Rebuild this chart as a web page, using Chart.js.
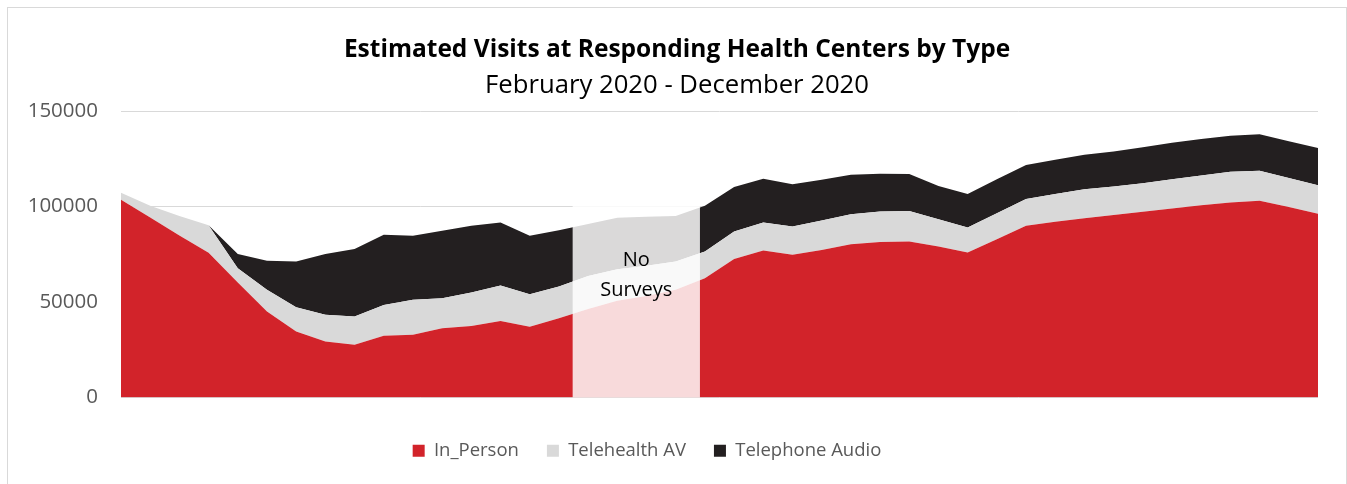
<!DOCTYPE html>
<html>
<head>
<meta charset="utf-8">
<script src="https://cdn.jsdelivr.net/npm/chart.js@4/dist/chart.umd.min.js"></script>
<style>
  html, body { margin: 0; padding: 0; background: #ffffff; }
  #frame { position: absolute; left: 7px; top: 7px; width: 1338px; height: 490px; border: 1px solid #d9d9d9; }
  #c { position: absolute; left: 8px; top: 8px; }
</style>
</head>
<body>
<div id="frame"></div>
<canvas id="c" width="1338" height="476"></canvas>
<script>
// ---- data ----
const categories = ["W1","W2","W3","W4","W5","W6","W7","W8","W9","W10","W11","W12","W13","W14",
  "W15","W16","W17","W18","W19","W20","W21","W22","W23","W24","W25","W26","W27","W28",
  "W29","W30","W31","W32","W33","W34","W35","W36","W37","W38","W39","W40","W41","W42"];

const inPerson = [103500, 94200, 84800, 75800, 60200, 45000, 34600, 29300, 27600, 32300, 32800, 36300, 37500, 40000,
  37000, 41500, 46300, 50600, 53200, 56400, 62500, 72500, 77000, 74700, 77300, 80300, 81400, 81700,
  79100, 75900, 82900, 89900, 92000, 93900, 95500, 97200, 99000, 100700, 102100, 103000, 99700, 96200];

const telehealthAV = [3700, 6200, 10300, 14400, 7500, 11400, 12700, 14000, 14800, 16200, 18400, 15700, 17500, 18600,
  17100, 16600, 17300, 16600, 15800, 14800, 13900, 14400, 14600, 14800, 15400, 15700, 16000, 15900,
  14300, 13100, 13600, 14000, 14500, 15200, 15000, 15000, 15300, 15500, 16100, 15700, 15300, 15000];

const telephoneAudio = [0, 0, 0, 0, 7400, 15200, 23900, 31800, 35300, 36700, 33500, 35300, 34900, 33000,
  30600, 29500, 27300, 26900, 25600, 23900, 24000, 23300, 22900, 22200, 21300, 20600, 19700, 19400,
  17400, 17600, 17800, 17900, 18000, 18000, 18300, 18900, 19100, 19200, 18800, 19200, 19200, 19400];

const yTicks = [0, 50000, 100000, 150000];
const seriesNames = ["In_Person", "Telehealth AV", "Telephone Audio"];

// "No Surveys" band, in category-index units and value units
const bandStart = 15.47;
const bandEnd = 19.83;
const bandTop = 140000;
const bandLabelLines = ["No", "Surveys"];
const bandLabelValues = [72000, 56000];

// ---- styles ----
const FONT = "'Open Sans', 'Noto Sans', sans-serif";
const RED = "#d2232a", GREY = "#d9d9d9", BLACK = "#231f20", TXT = "#595959";
const LEGEND_DX = -16;
const TITLE_DX = 14;

const bandPlugin = {
  id: "noSurveys",
  afterDatasetsDraw(chart) {
    const x = chart.scales.x, y = chart.scales.y, ctx = chart.ctx;
    const x0 = x.getPixelForValue(bandStart), x1 = x.getPixelForValue(bandEnd);
    const y0 = y.getPixelForValue(bandTop), y1 = y.getPixelForValue(0);
    ctx.save();
    ctx.fillStyle = "rgba(255,255,255,0.83)";
    ctx.fillRect(x0, y0, x1 - x0, y1 - y0);
    ctx.fillStyle = "#000000";
    ctx.font = "20px " + FONT;
    ctx.textAlign = "center";
    ctx.textBaseline = "middle";
    const cx = (x0 + x1) / 2;
    bandLabelLines.forEach((t, i) => ctx.fillText(t, cx, y.getPixelForValue(bandLabelValues[i])));
    ctx.restore();
  }
};

const boxShift = {
  id: "boxShift",
  afterLayout(chart) {
    const shift = (b, dx) => { if (b) { b.left += dx; b.right += dx; } };
    shift(chart.legend, LEGEND_DX);
    shift(chart.titleBlock, TITLE_DX);
    (chart.boxes || []).forEach(b => { if (b !== chart.titleBlock && b.options && b.options.text === "February 2020 - December 2020") shift(b, TITLE_DX); });
  }
};

new Chart(document.getElementById("c"), {
  type: "line",
  data: {
    labels: categories,
    datasets: [
      { label: seriesNames[0], data: inPerson, backgroundColor: RED, borderColor: RED, borderWidth: 0, pointRadius: 0, fill: "origin" },
      { label: seriesNames[1], data: telehealthAV, backgroundColor: GREY, borderColor: GREY, borderWidth: 0, pointRadius: 0, fill: "-1" },
      { label: seriesNames[2], data: telephoneAudio, backgroundColor: BLACK, borderColor: BLACK, borderWidth: 0, pointRadius: 0, fill: "-1" }
    ]
  },
  plugins: [bandPlugin, boxShift],
  options: {
    responsive: false,
    animation: false,
    events: [],
    layout: { padding: { top: 0, right: 28, bottom: 14, left: 0 } },
    elements: { line: { tension: 0 } },
    scales: {
      x: {
        display: true,
        grid: { display: false, drawTicks: false },
        border: { display: false },
        ticks: { display: false },
        afterFit(s) { s.height = 16; }
      },
      y: {
        stacked: true,
        min: 0, max: 150000,
        afterBuildTicks(s) { s.ticks = yTicks.map(v => ({ value: v })); },
        grid: { color: GREY, lineWidth: 1, drawTicks: false },
        border: { display: false },
        ticks: { color: TXT, font: { family: FONT, size: 20.5 }, padding: 23, callback: v => String(v) },
        afterFit(s) { s.width = 113; }
      }
    },
    plugins: {
      title: { display: true, text: "Estimated Visits at Responding Health Centers by Type", color: "#000000",
               font: { family: FONT, size: 24.5, weight: "bold" }, padding: { top: 27.3, bottom: 0 } },
      subtitle: { display: true, text: "February 2020 - December 2020", color: "#000000",
               font: { family: FONT, size: 25.7, weight: "normal" }, padding: { top: 5.6, bottom: 9.9 } },
      legend: { position: "bottom", labels: { boxWidth: 12, boxHeight: 12, padding: 28, color: TXT, font: { family: FONT, size: 18.5 } } },
      tooltip: { enabled: false }
    }
  }
});
</script>
</body>
</html>
